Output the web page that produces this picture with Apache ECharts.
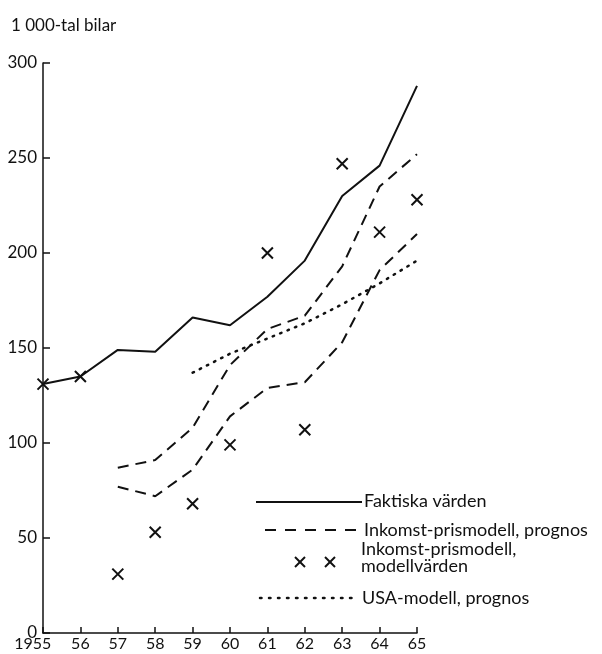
<!DOCTYPE html>
<html>
<head>
<meta charset="utf-8">
<script src="https://cdn.jsdelivr.net/npm/echarts@6/dist/echarts.min.js"></script>
<style>
  html, body { margin: 0; padding: 0; background: #fff; }
  #chart { width: 602px; height: 654px; }
</style>
</head>
<body>
<div id="chart"></div>
<script>
// år (x-axel)
var years = ["1955", "56", "57", "58", "59", "60", "61", "62", "63", "64", "65"];
// Faktiska värden
var faktiska = [131, 135, 149, 148, 166, 162, 177, 196, 230, 246, 288];
// Inkomst-prismodell, prognos (övre och undre kurva)
var prognosHog = [null, null, 87, 91, 108, 141, 160, 167, 193, 235, 252];
var prognosLag = [null, null, 77, 72, 86, 114, 129, 132, 153, 191, 210];
// Inkomst-prismodell, modellvärden (kryss)
var modellvarden = [131, 135, 31, 53, 68, 99, 200, 107, 247, 211, 228];
// USA-modell, prognos
var usaModell = [null, null, null, null, 137, 147, 155, 163, 173, 184, 196];

var ink = "#111";
var font = "Lato, 'Open Sans', sans-serif";
var cross = "path://M0,0L10,10M10,0L0,10";

// kryss i förklaringen, ritat som två korta linjer
function legendCross(cx, cy) {
  return [
    { type: "line", shape: { x1: cx - 5, y1: cy - 5, x2: cx + 5, y2: cy + 5 }, style: { stroke: ink, lineWidth: 2 } },
    { type: "line", shape: { x1: cx + 5, y1: cy - 5, x2: cx - 5, y2: cy + 5 }, style: { stroke: ink, lineWidth: 2 } }
  ];
}

var chart = echarts.init(document.getElementById("chart"));

chart.setOption({
  backgroundColor: "#fff",
  animation: false,
  title: {
    text: "1 000-tal bilar",
    left: 6,
    top: 12,
    textStyle: { color: ink, fontSize: 17, fontWeight: "normal", fontFamily: font }
  },
  grid: { left: 43, right: 185, top: 63, bottom: 21 },
  xAxis: {
    type: "category",
    data: years,
    boundaryGap: false,
    axisLine: { lineStyle: { color: ink, width: 1.5 } },
    axisTick: { inside: true, length: 6, interval: 0, lineStyle: { color: ink, width: 1.5 } },
    axisLabel: {
      color: ink, fontSize: 16, fontFamily: font, margin: 3, interval: 0,
      // första etiketten (1955) står något till vänster om sitt streck
      formatter: function (v, i) { return i === 0 ? v + "\u00a0\u00a0\u00a0\u00a0\u00a0" : v; }
    },
    splitLine: { show: false }
  },
  yAxis: {
    type: "value",
    min: 0,
    max: 300,
    interval: 50,
    axisLine: { show: true, lineStyle: { color: ink, width: 1.5 } },
    axisTick: { show: true, inside: true, length: 7, lineStyle: { color: ink, width: 1.5 } },
    axisLabel: { color: ink, fontSize: 17, fontFamily: font, margin: 6 },
    splitLine: { show: false }
  },
  series: [
    {
      name: "Faktiska värden",
      type: "line",
      data: faktiska,
      symbol: "none",
      lineStyle: { color: ink, width: 2 },
      z: 3
    },
    {
      name: "Inkomst-prismodell, prognos",
      type: "line",
      data: prognosHog,
      symbol: "none",
      lineStyle: { color: ink, width: 2, type: [11, 7] }
    },
    {
      name: "Inkomst-prismodell, prognos (lag)",
      type: "line",
      data: prognosLag,
      symbol: "none",
      lineStyle: { color: ink, width: 2, type: [11, 7] }
    },
    {
      name: "USA-modell, prognos",
      type: "line",
      data: usaModell,
      symbol: "none",
      lineStyle: { color: ink, width: 2.5, type: [1.5, 6.5], cap: "round" }
    },
    {
      name: "Inkomst-prismodell, modellvärden",
      type: "scatter",
      data: modellvarden,
      symbol: cross,
      symbolSize: 11,
      itemStyle: { color: "transparent", borderColor: ink, borderWidth: 2, opacity: 1 },
      z: 4
    }
  ],
  graphic: [
    { type: "line", shape: { x1: 256, y1: 502, x2: 362, y2: 502 }, style: { stroke: ink, lineWidth: 2 } },
    { type: "text", x: 364, y: 501, style: { text: "Faktiska värden", fill: ink, font: "18px " + font, verticalAlign: "middle" } },

    { type: "line", shape: { x1: 265, y1: 530, x2: 362, y2: 530 }, style: { stroke: ink, lineWidth: 2, lineDash: [11, 9] } },
    { type: "text", x: 364, y: 530, style: { text: "Inkomst-prismodell, prognos", fill: ink, font: "18px " + font, verticalAlign: "middle" } }
  ].concat(legendCross(300, 562), legendCross(330, 562), [
    { type: "text", x: 361, y: 549, style: { text: "Inkomst-prismodell,", fill: ink, font: "18px " + font, verticalAlign: "middle" } },
    { type: "text", x: 361, y: 566, style: { text: "modellvärden", fill: ink, font: "18px " + font, verticalAlign: "middle" } },

    { type: "line", shape: { x1: 260, y1: 598, x2: 357, y2: 598 }, style: { stroke: ink, lineWidth: 2.5, lineDash: [1.5, 7.5], lineCap: "round" } },
    { type: "text", x: 362, y: 598, style: { text: "USA-modell, prognos", fill: ink, font: "18px " + font, verticalAlign: "middle" } }
  ])
});
</script>
</body>
</html>
